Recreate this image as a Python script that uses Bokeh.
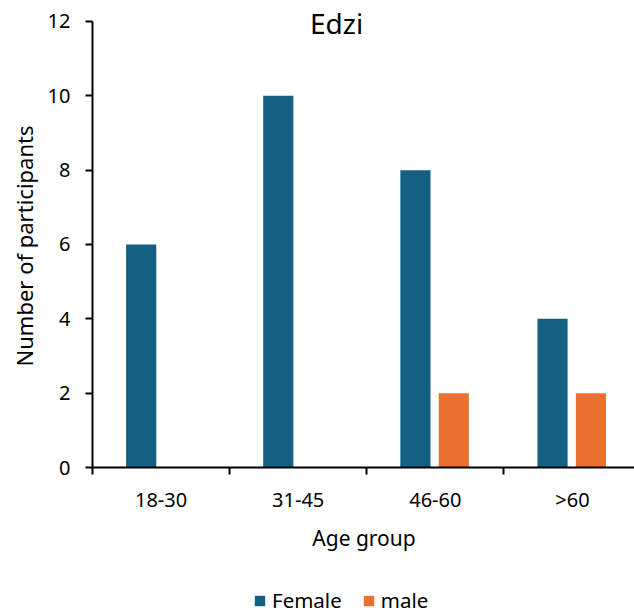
from bokeh.plotting import figure
from bokeh.models import Range1d, FixedTicker, Legend, LegendItem, Label, Title, ColumnDataSource
from bokeh.layouts import column
from bokeh.embed import file_html
from bokeh.resources import INLINE
import numpy as np

categories = ["18-30", "31-45", "46-60", ">60"]
female = [6, 10, 8, 4]
male = [0, 0, 2, 2]
y_ticks = [0, 2, 4, 6, 8, 10, 12]
series_names = ["Female", "male"]

FONT = "Noto Sans"
C_F = "#156082"
C_M = "#E97132"

idx = np.arange(len(categories))
src = ColumnDataSource(dict(
    xf=idx + 0.5 - 0.145, xm=idx + 0.5 + 0.135,
    female=female, male=male))

# frame extends to the top of the canvas so the title can sit over it;
# the y axis line itself is bounded to 0..12
p = figure(width=634, height=581, frame_width=543, frame_height=467,
           output_backend="svg", toolbar_location=None,
           x_range=Range1d(0, 3.96), y_range=Range1d(0, 12.565),
           min_border_left=91, min_border_right=0, min_border_top=0,
           min_border_bottom=114)
p.outline_line_color = None
p.xgrid.visible = False
p.ygrid.visible = False

p.vbar(x="xf", top="female", width=0.22, source=src, fill_color=C_F, line_color=None)
p.vbar(x="xm", top="male", width=0.22, source=src, fill_color=C_M, line_color=None)

# x axis
xa = p.xaxis[0]
xa.ticker = FixedTicker(ticks=list(idx + 0.5), minor_ticks=list(range(len(categories) + 1)))
xa.major_label_overrides = {float(i + 0.5): c for i, c in enumerate(categories)}
xa.major_tick_out = 0
xa.major_tick_in = 0
xa.minor_tick_out = 7
xa.minor_tick_in = 0
xa.minor_tick_line_color = "black"
xa.minor_tick_line_width = 2
xa.axis_line_color = "black"
xa.axis_line_width = 2
xa.major_label_text_font = FONT
xa.major_label_text_font_size = "20px"
xa.major_label_text_color = "black"
xa.major_label_standoff = 11
xa.axis_label = "Age group"
xa.axis_label_text_font = FONT
xa.axis_label_text_font_size = "21px"
xa.axis_label_text_font_style = "normal"
xa.axis_label_text_color = "black"
xa.axis_label_standoff = 8

# y axis
ya = p.yaxis[0]
ya.bounds = (y_ticks[0], y_ticks[-1])
ya.ticker = FixedTicker(ticks=y_ticks, minor_ticks=[])
ya.major_tick_out = 7
ya.major_tick_in = 0
ya.major_tick_line_width = 2
ya.major_tick_line_color = "black"
ya.axis_line_color = "black"
ya.axis_line_width = 2
ya.major_label_text_font = FONT
ya.major_label_text_font_size = "20px"
ya.major_label_text_color = "black"
ya.major_label_standoff = 15

# y axis title (as a side title so it can be centred on the 0..12 span)
p.add_layout(Title(text="Number of participants", align="right", offset=125,
                   text_font=FONT, text_font_size="22px", text_font_style="normal",
                   text_color="black", standoff=12), "left")

# chart title
p.add_layout(Label(x=1.78, y=11.95, text="Edzi", text_align="center", text_baseline="middle",
                   text_font=FONT, text_font_size="28px", text_color="black"))

# legend strip below the chart (its proxy bars lie far outside its visible range)
leg = figure(width=634, height=34, output_backend="svg", toolbar_location=None,
             x_range=Range1d(50, 51), y_range=Range1d(50, 51),
             x_axis_location=None, y_axis_location=None, min_border=0)
leg.outline_line_color = None
leg.xgrid.visible = False
leg.ygrid.visible = False
lf = leg.vbar(x="xf", top="female", width=0.22, source=src, fill_color=C_F, line_color=None)
lm = leg.vbar(x="xm", top="male", width=0.22, source=src, fill_color=C_M, line_color=None)

legend = Legend(items=[LegendItem(label=series_names[0], renderers=[lf]),
                       LegendItem(label=series_names[1], renderers=[lm])],
                orientation="horizontal", location=(161, 1),
                label_text_font=FONT, label_text_font_size="20.5px", label_text_color="black",
                glyph_width=13, glyph_height=13, label_standoff=6, spacing=20,
                border_line_color=None, background_fill_alpha=0,
                margin=0, padding=0)
legend.label_height = 22
leg.add_layout(legend, "center")

layout = column(p, leg, spacing=0)
open("out.html", "w").write(file_html(layout, INLINE))
